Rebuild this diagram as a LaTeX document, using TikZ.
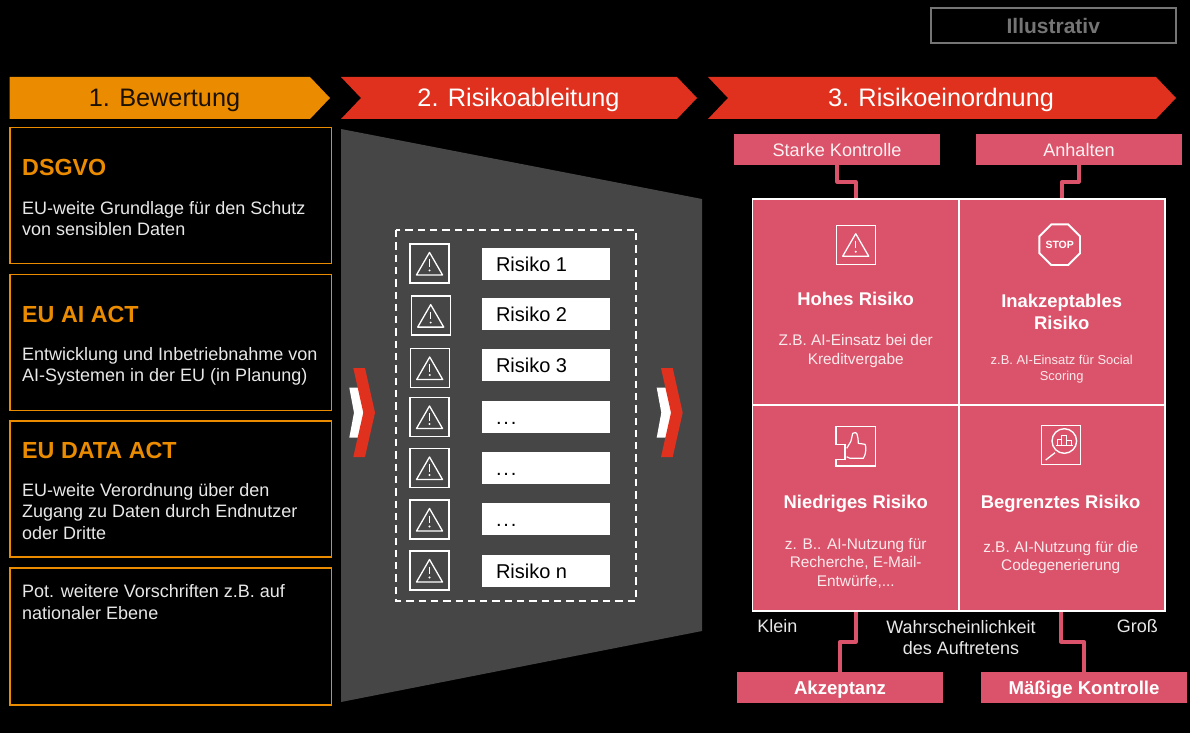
\documentclass[tikz,border=0pt]{standalone}
\usepackage{fontspec}
\setmainfont{Liberation Sans}
\usetikzlibrary{shapes.geometric,calc}
\definecolor{org}{HTML}{EB8C00}
\definecolor{redd}{HTML}{E0301E}
\definecolor{rose}{HTML}{DB536A}
\definecolor{panel}{HTML}{464646}
\definecolor{grayt}{HTML}{757575}
\definecolor{txt}{HTML}{E8E8E8}
\tikzset{x=1pt,y=-1pt,
 lawbox/.style={draw=org,line width=1.2pt,fill=black},
 headtext/.style={font=\fontsize{25.3}{30}\selectfont,inner sep=0,text height=17.4pt,text depth=0pt},
 lawhead/.style={font=\fontsize{23.3}{27}\selectfont\bfseries,text=org,anchor=base west,inner sep=0},
 body/.style={font=\fontsize{18}{21}\selectfont,text=txt,anchor=north west,inner sep=0,align=left},
 risk/.style={fill=white,minimum width=128pt,minimum height=32pt,inner sep=0,text=black,font=\fontsize{20}{24}\selectfont,text height=15.4pt,text depth=0pt},
 iconbox/.style={draw=white,line width=1.3pt,minimum width=39pt,minimum height=39pt,inner sep=0},
 tri/.style={draw=white,line width=1.3pt,line join=round},
 rosebox/.style={fill=rose,minimum width=206pt,minimum height=31pt,inner sep=0,text=white!92!rose,font=\fontsize{18.1}{22}\selectfont,text height=13pt,text depth=0pt},
 rosebold/.style={rosebox,text=white,font=\fontsize{18.6}{22}\selectfont\bfseries},
 conn/.style={draw=rose,line width=3.6pt,line join=round},
 cell/.style={fill=rose,draw=white,line width=1.8pt,minimum width=206.5pt,minimum height=206pt,inner sep=0},
 ctitle/.style={font=\fontsize{18.4}{22}\selectfont\bfseries,text=white,align=center,inner sep=0,anchor=base},
 csub/.style={font=\fontsize{15.4}{19}\selectfont,text=white!88!rose,align=center,inner sep=0,anchor=north},
 csubs/.style={font=\fontsize{12.9}{16.4}\selectfont,text=white!88!rose,align=center,inner sep=0,anchor=north},
 axislab/.style={font=\fontsize{18}{21.3}\selectfont,text=txt,align=center,inner sep=0,anchor=base},
}
\newcommand{\warn}[3]{%
 \draw[tri] (#1-#3*13,#2+#3*11.5) -- (#1,#2-#3*11) -- (#1+#3*13,#2+#3*11.5) -- cycle;
 \draw[white,line width=1.3pt] (#1,#2-#3*4) -- (#1,#2+#3*3.5);
 \fill[white] (#1,#2+#3*7) circle (1.1pt);}
\newcommand{\dotsr}{.\kern1.9pt.\kern1.9pt.}
\begin{document}
\begin{tikzpicture}
\useasboundingbox (0,0) rectangle (1190,733);
\fill[black] (0,0) rectangle (1190,733);
% Illustrativ
\node[draw=grayt,line width=2pt,minimum width=245pt,minimum height=35.5pt,inner sep=0,text=grayt,font=\fontsize{21}{25}\selectfont\bfseries,text height=16.4pt,text depth=0pt] (ill) at (1053.3,25.3) {Illustrativ};
% headers
\fill[org] (9.5,77) -- (310,77) -- (330,98) -- (310,119) -- (9.5,119) -- cycle;
\fill[redd] (341,77) -- (677,77) -- (697,98) -- (677,119) -- (341,119) -- (361,98) -- cycle;
\fill[redd] (708,77) -- (1156,77) -- (1176,98) -- (1156,119) -- (708,119) -- (728,98) -- cycle;
\node[headtext,text=black!88!org] (h1) at (164.5,98) {1. Bewertung};
\node[headtext,text=white] (h2) at (518.5,98) {2. Risikoableitung};
\node[headtext,text=white] (h3) at (941,98) {3. Risikoeinordnung};
% law boxes
\draw[lawbox] (10,127.7) rectangle (331.3,263.7);
\draw[lawbox] (10,274.5) rectangle (331.3,410.7);
\draw[lawbox] (10,421) rectangle (331.3,557);
\draw[lawbox] (10,568) rectangle (331.3,705);
\node[lawhead] (l1) at (22,175.7) {DSGVO};
\node[body] (b1) at (22,201) {EU-weite Grundlage für den Schutz\\von sensiblen Daten};
\node[lawhead] (l2) at (22,322) {EU AI ACT};
\node[body] (b2) at (22,347) {Entwicklung und Inbetriebnahme von\\AI-Systemen in der EU (in Planung)};
\node[lawhead] (l3) at (22,458) {EU DATA ACT};
\node[body,font=\fontsize{18}{21.5}\selectfont] (b3) at (22,483) {EU-weite Verordnung über den\\Zugang zu Daten durch Endnutzer\\oder Dritte};
\node[body,font=\fontsize{18}{22}\selectfont] (b4) at (22,584) {Pot. weitere Vorschriften z.B. auf\\nationaler Ebene};
% funnel
\fill[panel] (341,129) -- (702,199) -- (702,631) -- (341,702) -- cycle;
\draw[white,line width=1.5pt,dash pattern=on 7.3pt off 5pt] (396,230) rectangle (636,601);
% chevrons
\fill[white] (349.3,387.7) -- (359.3,387.7) -- (364,412.7) -- (359.3,437.7) -- (349.3,437.7) -- (354,412.7) -- cycle;
\fill[redd] (353.3,368) -- (365,368) -- (375,412.7) -- (365,457) -- (353.3,457) -- (363.3,412.7) -- cycle;
\fill[white] (656.7,387.7) -- (666.7,387.7) -- (671.7,412.7) -- (666.7,437.7) -- (656.7,437.7) -- (661.3,412.7) -- cycle;
\fill[redd] (661,368) -- (672.7,368) -- (682.7,412.7) -- (672.7,457) -- (661,457) -- (671,412.7) -- cycle;
% risks
\foreach \i/\ix/\iy/\ry/\lbl in {1/429.5/263.4/264/Risiko 1,2/430.7/315.6/314/Risiko 2,3/429.7/368/365/Risiko 3,4/429.5/417/417/\dotsr,5/429.5/468/468/\dotsr,6/429.5/519.5/519/\dotsr,7/429.5/570.5/571/Risiko n}{
  \node[iconbox] (ic\i) at (\ix,\iy) {};
  \warn{\ix}{\iy}{1}
  \node[risk] (r\i) at (546,\ry) {\makebox[100pt][l]{\lbl}};
}
% grid connectors
\node[rosebox] (sk) at (837,149.5) {Starke Kontrolle};
\node[rosebox] (an) at (1079,149.5) {Anhalten};
\coordinate (c1) at (855.7,199);
\coordinate (c2) at (1062,199);
\coordinate (c3) at (855.7,611);
\coordinate (c4) at (1060.7,611);
\node[rosebold] (ak) at (840,687.5) {Akzeptanz};
\node[rosebold] (mk) at (1084,687.5) {Mäßige Kontrolle};
\draw[conn] (sk.south) -- (837,181.7) -- (855.7,181.7) -- (c1);
\draw[conn] (an.south) -- (1079,181.7) -- (1062,181.7) -- (c2);
\draw[conn] (c3) -- (855.7,641.7) -- (840,641.7) -- (ak.north);
\draw[conn] (c4) -- (1060.7,641.7) -- (1084,641.7) -- (mk.north);
% cells
\node[cell] (q1) at (855.7,302) {};
\node[cell] (q2) at (1062,302) {};
\node[cell] (q3) at (855.7,508) {};
\node[cell] (q4) at (1062,508) {};
% icons in cells
\node[iconbox] (i1) at (855.7,244.7) {};
\warn{855.7}{244.7}{1}
\node[regular polygon,regular polygon sides=8,draw=white,line width=1.9pt,minimum size=44pt,inner sep=0,text=white,font=\fontsize{10.5}{12}\selectfont\bfseries] (i2) at (1059.7,244.7) {STOP};
\draw[white,line width=1.3pt] (836,426.7) -- (875.7,426.7) -- (875.7,466) -- (836,466) -- (836,459.3) -- (845,459.3) -- (845,444.3) -- (836,444.3) -- cycle;
\draw[white,line width=1.2pt,line join=round] (846.7,448.3) -- (850.7,441.7) .. controls (852,438) and (852,435) .. (852.7,433.3) .. controls (855,432) and (856.5,432.5) .. (857,434) .. controls (858,437) and (858.3,440) .. (858.3,443.3) -- (865,444.3) .. controls (866.5,446) and (866,455) .. (863.3,458.3) -- (850,458.3) -- (846.7,456.7);
\node[iconbox] (i4) at (1060.8,444.7) {};
\draw[white,line width=1.4pt] (1064.3,441) circle (12.3pt);
\draw[white,line width=1.3pt] (1045.7,460) -- (1055,452.7);
\draw[white,line width=1pt] (1057.3,445) -- (1057.3,439.3) -- (1061.3,439.3) -- (1061.3,445) (1061.3,445) -- (1061.3,435) -- (1066,435) -- (1066,445) (1066,445) -- (1066,440) -- (1071.3,440) -- (1071.3,445) (1056,445) -- (1073,445);
% cell texts
\node[ctitle] (t1) at (855.7,305) {Hohes Risiko};
\node[csub] (s1) at (855.7,334) {Z.B. AI-Einsatz bei der\\Kreditvergabe};
\node[ctitle,anchor=north] (t2) at (1061.7,294) {Inakzeptables\\Risiko};
\node[csubs] (s2) at (1061.7,355) {z.B. AI-Einsatz für Social\\Scoring};
\node[ctitle] (t3) at (855.7,508.3) {Niedriges Risiko};
\node[csub,font=\fontsize{15.4}{18.5}\selectfont] (s3) at (855.7,538) {z. B.. AI-Nutzung für\\Recherche, E-Mail-\\Entwürfe,...};
\node[ctitle] (t4) at (1060.7,508.3) {Begrenztes Risiko};
\node[csub,font=\fontsize{15.4}{18}\selectfont] (s4) at (1060.7,541) {z.B. AI-Nutzung für die\\Codegenerierung};
% axis
\node[axislab] (klein) at (777.3,632.7) {Klein};
\node[axislab,anchor=north] (wa) at (961,620) {Wahrscheinlichkeit\\des Auftretens};
\node[axislab] (gross) at (1137.3,632.7) {Groß};
\end{tikzpicture}
\end{document}
